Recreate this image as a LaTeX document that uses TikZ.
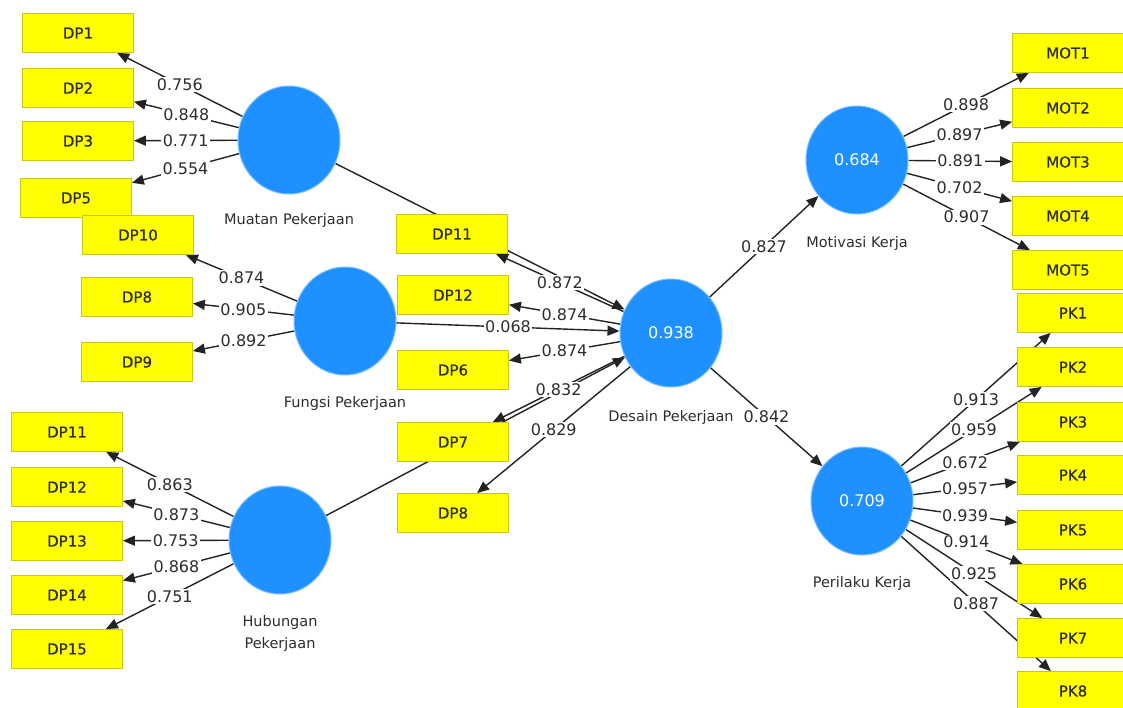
\documentclass[tikz,border=0pt]{standalone}
\usepackage{fontspec}
\setmainfont{DejaVu Sans}
\newfontfamily\boxfont[FakeBold=0.5]{DejaVu Sans}
\usetikzlibrary{arrows.meta,shapes.geometric}
\definecolor{boxy}{RGB}{255,255,0}
\definecolor{boxedge}{RGB}{200,200,20}
\definecolor{latb}{RGB}{30,144,255}
\definecolor{late}{RGB}{120,190,255}
\definecolor{ln}{RGB}{35,35,35}
\definecolor{txt}{RGB}{45,45,45}
\pgfdeclarelayer{bg}
\pgfsetlayers{bg,main}
\tikzset{
  ind/.style={rectangle, draw=boxedge, fill=boxy, line width=0.8pt, minimum width=111pt, minimum height=39pt, inner sep=0pt, font=\boxfont\fontsize{15}{18}\selectfont, text=txt},
  lat/.style={ellipse, fill=latb, draw=late, line width=1pt, minimum width=102pt, minimum height=108pt, inner sep=0pt, text=white, font=\fontsize{16}{18}\selectfont},
  latlbl/.style={font=\fontsize{14.5}{22}\selectfont, text=txt, align=center},
  con/.style={draw=ln, line width=1.4pt, -{Triangle[length=12pt,width=10pt]}},
  lbl/.style={fill=white, inner sep=1.5pt, font=\fontsize{16}{18}\selectfont, text=txt},
}
\begin{document}
\begin{tikzpicture}[x=1pt,y=-1pt]
\useasboundingbox (0,0) rectangle (1123,707);
% latent variables
\node[lat] (mu) at (289,140) {};
\node[lat] (fu) at (345,321) {};
\node[lat] (hu) at (280,540) {};
\node[lat] (de) at (671,333) {0.938};
\node[lat] (mo) at (857,160) {0.684};
\node[lat] (pe) at (862,501) {0.709};
\node[latlbl] (mul) at (289,220) {Muatan Pekerjaan};
\node[latlbl] (ful) at (345,403) {Fungsi Pekerjaan};
\node[latlbl] (hul) at (280,633) {Hubungan\\Pekerjaan};
\node[latlbl] (del) at (671,417) {Desain Pekerjaan};
\node[latlbl] (mol) at (857,243) {Motivasi Kerja};
\node[latlbl] (pel) at (862,583) {Perilaku Kerja};
% indicators
\node[ind] (a1) at (78,33) {DP1};
\node[ind] (a2) at (78,88) {DP2};
\node[ind] (a3) at (78,141) {DP3};
\node[ind] (a5) at (76,198) {DP5};
\node[ind] (b10) at (138,235) {DP10};
\node[ind] (b8) at (137,297) {DP8};
\node[ind] (b9) at (137,362) {DP9};
\node[ind] (c11) at (67,432) {DP11};
\node[ind] (c12) at (67,487) {DP12};
\node[ind] (c13) at (67,541) {DP13};
\node[ind] (c14) at (67,595) {DP14};
\node[ind] (c15) at (67,649) {DP15};
\node[ind] (d11) at (452,234) {DP11};
\node[ind] (d12) at (453,295) {DP12};
\node[ind] (d6) at (453,370) {DP6};
\node[ind] (d7) at (453,442) {DP7};
\node[ind] (d8) at (453,513) {DP8};
\node[ind] (m1) at (1068,53) {MOT1};
\node[ind] (m2) at (1068,108) {MOT2};
\node[ind] (m3) at (1068,162) {MOT3};
\node[ind] (m4) at (1068,216) {MOT4};
\node[ind] (m5) at (1068,270) {MOT5};
\node[ind] (p1) at (1073,313) {PK1};
\node[ind] (p2) at (1073,367) {PK2};
\node[ind] (p3) at (1073,422) {PK3};
\node[ind] (p4) at (1073,475) {PK4};
\node[ind] (p5) at (1073,530) {PK5};
\node[ind] (p6) at (1073,584) {PK6};
\node[ind] (p7) at (1073,638) {PK7};
\node[ind] (p8) at (1073,691) {PK8};
% structural paths whose labels are hidden under boxes
\begin{pgfonlayer}{bg}
\draw[con] (mu) -- (de);
\draw[con] (hu) -- (de);
\end{pgfonlayer}
% labelled connectors
\foreach \s/\t/\v in {mu/a1/0.756, mu/a2/0.848, mu/a3/0.771, mu/a5/0.554,
  fu/b10/0.874, fu/b8/0.905, fu/b9/0.892,
  hu/c11/0.863, hu/c12/0.873, hu/c13/0.753, hu/c14/0.868, hu/c15/0.751,
  de/d11/0.872, de/d12/0.874, fu/de/0.068, de/d6/0.874, de/d7/0.832, de/d8/0.829,
  de/mo/0.827, de/pe/0.842,
  mo/m1/0.898, mo/m2/0.897, mo/m3/0.891, mo/m4/0.702, mo/m5/0.907,
  pe/p1/0.913, pe/p2/0.959, pe/p3/0.672, pe/p4/0.957, pe/p5/0.939, pe/p6/0.914, pe/p7/0.925, pe/p8/0.887} {
  \begin{pgfonlayer}{bg}
  \draw[con] (\s) -- (\t);
  \end{pgfonlayer}
  \path (\s) -- node[lbl]{\v} (\t);
}
\end{tikzpicture}
\end{document}
